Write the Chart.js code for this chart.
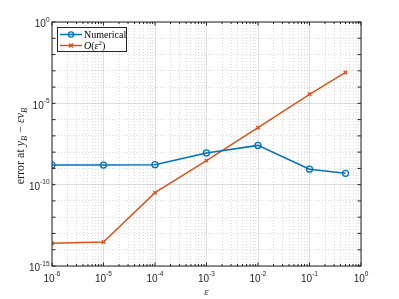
<!DOCTYPE html>
<html><head><meta charset="utf-8">
<script src="https://cdn.jsdelivr.net/npm/chart.js@4"></script>
<style>html,body{margin:0;padding:0;background:#fff}canvas{display:block}</style>
</head><body>
<canvas id="c" width="399" height="299" style="width:399px;height:299px"></canvas>
<script>
const epsilon = [1e-6, 1e-5, 1e-4, 1e-3, 1e-2, 1e-1, 0.5];
const numerical = [1.6e-9, 1.6e-9, 1.7e-9, 8.9e-9, 2.6e-8, 8.9e-10, 5e-10];
const orderEps2 = [2.5e-14, 3e-14, 3.2e-11, 3e-9, 3.2e-7, 3.6e-5, 7.9e-4];
const xTickExponents = [-6, -5, -4, -3, -2, -1, 0];
const yTickExponents = [0, -5, -10, -15];
const seriesNames = ['Numerical', 'O(ε²)'];
const xLabel = 'ε';

const BLUE = '#0072BD', ORANGE = '#D95319', AX = '#262626';
const MAJOR = 'rgba(38,38,38,0.15)', MINOR = 'rgba(38,38,38,0.16)';

function xTicks(scale) {
  const t = [];
  for (let e = -6; e <= 0; e++) {
    t.push({value: Math.pow(10, e), major: true});
    if (e < 0) for (let m = 2; m <= 9; m++) t.push({value: m * Math.pow(10, e), major: false});
  }
  scale.ticks = t;
}
function yTicks(scale) {
  const t = [];
  for (let e = -15; e <= 0; e++) t.push({value: Math.pow(10, e), major: e % 5 === 0, dec: true});
  scale.ticks = t;
}

function drawPow(ctx, exp, x, y, align) {
  ctx.font = '10px "Liberation Sans", Arial, sans-serif';
  const w1 = ctx.measureText('10').width;
  ctx.font = '6.5px "Liberation Sans", Arial, sans-serif';
  const es = String(exp);
  const w2 = ctx.measureText(es).width;
  const tot = w1 + w2;
  let sx = align === 'center' ? x - tot / 2 : x - tot;
  ctx.textAlign = 'left';
  ctx.textBaseline = 'alphabetic';
  ctx.font = '10px "Liberation Sans", Arial, sans-serif';
  ctx.fillText('10', sx, y);
  ctx.font = '6.5px "Liberation Sans", Arial, sans-serif';
  ctx.fillText(es, sx + w1, y - 5.5);
}

function drawRich(ctx, parts, x, y, center) {
  let tot = 0;
  parts.forEach(p => { ctx.font = p.f; p.w = ctx.measureText(p.t).width; tot += p.w; });
  let cx = center ? x - tot / 2 : x;
  ctx.textAlign = 'left';
  ctx.textBaseline = 'alphabetic';
  parts.forEach(p => { ctx.font = p.f; ctx.fillText(p.t, cx, y + (p.dy || 0)); cx += p.w; });
}

const SERIF = '"Liberation Serif", "Times New Roman", serif';

const deco = {
  id: 'deco',
  afterDraw(chart) {
    const ctx = chart.ctx, a = chart.chartArea;
    const xs = chart.scales.x, ys = chart.scales.y;
    ctx.save();
    ctx.strokeStyle = AX; ctx.lineWidth = 1;
    ctx.strokeRect(a.left, a.top, a.right - a.left, a.bottom - a.top);
    ctx.beginPath();
    xs.ticks.forEach(t => {
      const px = xs.getPixelForValue(t.value);
      const L = t.major ? 3.5 : 2;
      ctx.moveTo(px, a.bottom); ctx.lineTo(px, a.bottom - L);
      ctx.moveTo(px, a.top); ctx.lineTo(px, a.top + L);
    });
    ys.ticks.forEach(t => {
      const py = ys.getPixelForValue(t.value);
      const L = 3.5;
      ctx.moveTo(a.left, py); ctx.lineTo(a.left + L, py);
      ctx.moveTo(a.right, py); ctx.lineTo(a.right - L, py);
    });
    ctx.stroke();
    ctx.fillStyle = AX;
    xTickExponents.forEach(e => drawPow(ctx, e, xs.getPixelForValue(Math.pow(10, e)), a.bottom + 15.5, 'center'));
    yTickExponents.forEach(e => drawPow(ctx, e, a.left - 2.5, ys.getPixelForValue(Math.pow(10, e)) + 5.3, 'right'));
    ctx.fillStyle = AX;
    ctx.font = 'italic 11px ' + SERIF;
    ctx.textAlign = 'center';
    ctx.fillText(xLabel, (a.left + a.right) / 2, 295);
    ctx.save();
    ctx.translate(24, (a.top + a.bottom) / 2 + 2);
    ctx.rotate(-Math.PI / 2);
    const R = '12px ' + SERIF, I = 'italic 12px ' + SERIF, S = 'italic 8.5px ' + SERIF;
    drawRich(ctx, [
      {t: 'error at ', f: R}, {t: 'y', f: I}, {t: 'B', f: S, dy: 2.5},
      {t: ' \u2212 ', f: R}, {t: 'ε', f: I}, {t: 'v', f: I}, {t: 'B', f: S, dy: 2.5}
    ], 0, 0, true);
    ctx.restore();
    const lx = 57, ly = 27, lw = 70, lh = 25;
    ctx.fillStyle = '#fff';
    ctx.fillRect(lx, ly, lw, lh);
    ctx.strokeStyle = AX; ctx.lineWidth = 1;
    ctx.strokeRect(lx + 0.5, ly + 0.5, lw - 1, lh - 1);
    const rows = [{y: 34.5, c: BLUE, m: 'o'}, {y: 45.5, c: ORANGE, m: 'x'}];
    rows.forEach(r => {
      ctx.strokeStyle = r.c; ctx.lineWidth = 1.5;
      ctx.beginPath(); ctx.moveTo(60, r.y); ctx.lineTo(82, r.y); ctx.stroke();
      ctx.lineWidth = 1.3;
      ctx.beginPath();
      if (r.m === 'o') { ctx.arc(71, r.y, 2.6, 0, Math.PI * 2); }
      else { ctx.moveTo(69, r.y - 2); ctx.lineTo(73, r.y + 2); ctx.moveTo(73, r.y - 2); ctx.lineTo(69, r.y + 2); }
      ctx.stroke();
    });
    ctx.fillStyle = '#000';
    ctx.font = '10px ' + SERIF;
    ctx.textAlign = 'left';
    ctx.fillText(seriesNames[0], 84, 37.8);
    drawRich(ctx, [
      {t: 'O', f: 'italic 10px ' + SERIF}, {t: '(', f: '10px ' + SERIF},
      {t: 'ε', f: 'italic 10px ' + SERIF}, {t: '2', f: '7px ' + SERIF, dy: -4},
      {t: ')', f: '10px ' + SERIF}
    ], 84, 48.8, false);
    ctx.restore();
  }
};

const gridOpts = {
  color: c => (c.tick && c.tick.major) ? MAJOR : MINOR,
  lineWidth: 1,
  drawTicks: false
};
const borderOpts = {
  display: false,
  dash: c => (c.tick && !c.tick.major) ? [1, 2] : []
};

new Chart(document.getElementById('c'), {
  type: 'line',
  data: {
    datasets: [
      {
        label: seriesNames[0],
        data: epsilon.map((x, i) => ({x, y: numerical[i]})),
        borderColor: BLUE, borderWidth: 1.5,
        pointStyle: 'circle', pointRadius: 3, pointBorderWidth: 1.3,
        pointBorderColor: BLUE, pointBackgroundColor: 'rgba(0,0,0,0)',
        tension: 0
      },
      {
        label: seriesNames[1],
        data: epsilon.map((x, i) => ({x, y: orderEps2[i]})),
        borderColor: ORANGE, borderWidth: 1.5,
        pointStyle: 'crossRot', pointRadius: 2.5, pointBorderWidth: 1.3,
        pointBorderColor: ORANGE, pointBackgroundColor: ORANGE,
        tension: 0
      }
    ]
  },
  options: {
    responsive: false,
    animation: false,
    layout: {padding: {left: 52, right: 38, top: 22, bottom: 33}},
    plugins: {legend: {display: false}, tooltip: {enabled: false}},
    scales: {
      x: {
        type: 'logarithmic', min: 1e-6, max: 1,
        afterBuildTicks: xTicks,
        ticks: {display: false},
        grid: gridOpts, border: borderOpts
      },
      y: {
        type: 'logarithmic', min: 1e-15, max: 1,
        afterBuildTicks: yTicks,
        ticks: {display: false},
        grid: gridOpts, border: borderOpts
      }
    }
  },
  plugins: [deco]
});
</script>
</body></html>
